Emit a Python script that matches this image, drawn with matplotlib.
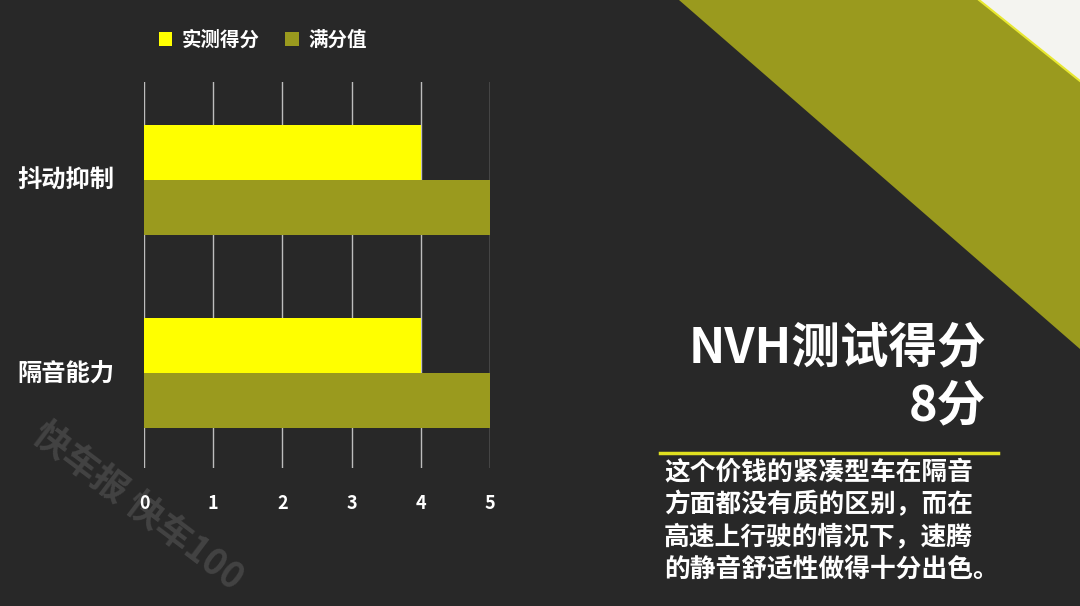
import matplotlib
matplotlib.use('Agg')
import matplotlib.pyplot as plt
from matplotlib.patches import Polygon

plt.rcParams['font.family'] = ['Noto Sans CJK SC', 'DejaVu Sans']

# data
categories = ['抖动抑制', '隔音能力']
measured = [4, 4]
full_score = [5, 5]
series_names = ['实测得分', '满分值']
ticks = [0, 1, 2, 3, 4, 5]

title = 'NVH测试得分'
score_text = '8分'
comment_lines = ['这个价钱的紧凑型车在隔音',
                 '方面都没有质的区别，而在',
                 '高速上行驶的情况下，速腾',
                 '的静音舒适性做得十分出色。']

bg = '#282828'
yellow = '#ffff00'
olive = '#9a9a1e'

fig = plt.figure(figsize=(10.8, 6.06), dpi=100)
fig.patch.set_facecolor(bg)

# background decoration (pixel coords)
bgax = fig.add_axes([0, 0, 1, 1], zorder=0)
bgax.set_xlim(0, 1080)
bgax.set_ylim(606, 0)
bgax.axis('off')
bgax.add_patch(Polygon([(679, 0), (979, 0), (1080, 81), (1080, 349)], closed=True, fc=olive, ec='none'))
bgax.add_patch(Polygon([(979, 0), (1080, 0), (1080, 81)], closed=True, fc='#f4f4f0', ec='none'))
bgax.plot([979, 1080], [0, 81], color='#e8e830', lw=1.5)

# title texts
bgax.text(986, 348, title, color='white', fontsize=35, fontweight='bold', ha='right', va='center')
bgax.text(986, 406, score_text, color='white', fontsize=35, fontweight='bold', ha='right', va='center')
bgax.plot([660, 998], [453, 453], color='#e0e020', lw=2.5)
for i, line in enumerate(comment_lines):
    bgax.text(664, 472 + i * 32.5, line, color='white', fontsize=18.5, fontweight='bold', ha='left', va='center')

# watermark
bgax.text(137, 507, '快车报 快车100', color='#4a4a4a', alpha=0.8, fontsize=26, fontweight='bold',
          rotation=-37, ha='center', va='center')

# category labels
cat_y = [181, 374]
for name, y in zip(categories, cat_y):
    bgax.text(17, y, name, color='white', fontsize=17.5, fontweight='bold', ha='left', va='center')

# chart
ax = fig.add_axes([144 / 1080, 1 - 468 / 606, 346 / 1080, 386 / 606], zorder=1)
ax.patch.set_alpha(0)
pos = list(range(len(categories)))
h = 0.285
ax.barh([p - h / 2 for p in pos], measured, height=h, color=yellow, label=series_names[0], zorder=2)
ax.barh([p + h / 2 for p in pos], full_score, height=h, color=olive, label=series_names[1], zorder=2)
ax.set_xlim(0, 5)
ax.set_ylim(1.492, -0.508)
ax.set_xticks(ticks)
ax.set_xticklabels([str(t) for t in ticks], color='white', fontsize=13, fontweight='bold')
ax.set_yticks(pos)
ax.set_yticklabels([])
ax.tick_params(axis='both', length=0)
ax.tick_params(axis='x', pad=19)
ax.grid(axis='x', color='#bdbdbd', lw=1, zorder=1)
ax.set_axisbelow(True)
for s in ax.spines.values():
    s.set_visible(False)

fig.legend(loc='center', bbox_to_anchor=(263 / 1080, 1 - 40 / 606), ncol=2, frameon=False,
           handlelength=0.7, handleheight=0.7, handletextpad=0.5, columnspacing=1.3,
           prop={'family': ['Noto Sans CJK SC', 'DejaVu Sans'], 'weight': 'bold', 'size': 14},
           labelcolor='white')

fig.savefig('out.png', dpi=100, facecolor=bg)
